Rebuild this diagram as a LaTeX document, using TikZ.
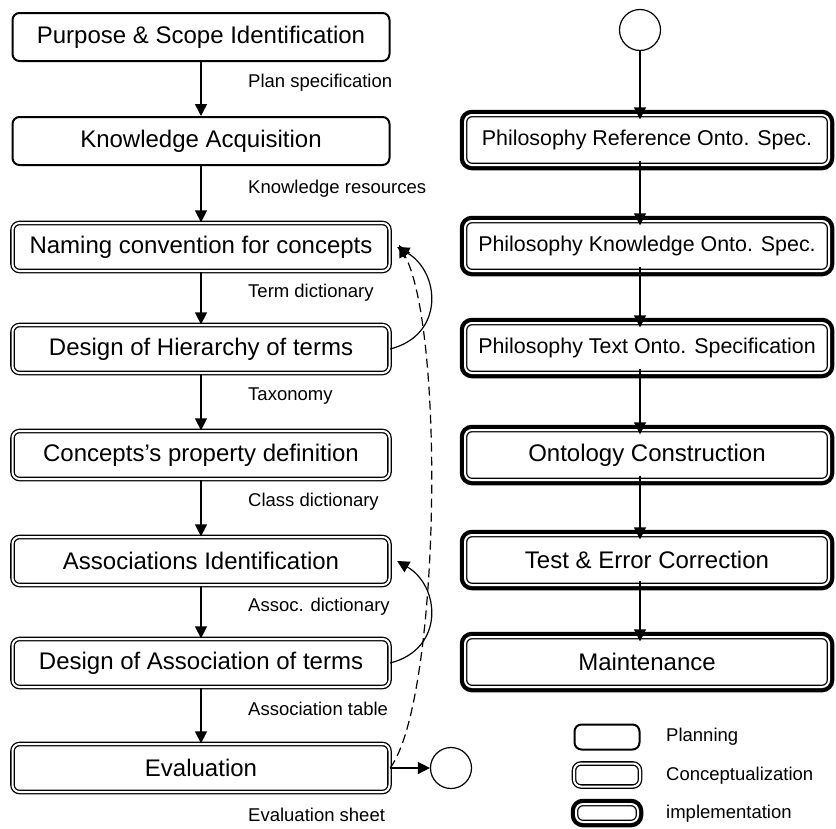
\documentclass[tikz,border=0pt]{standalone}
\usepackage{fontspec}
\setmainfont{Liberation Sans}
\usetikzlibrary{arrows.meta}

\begin{document}
\begin{tikzpicture}[x=1pt,y=-1pt,
  box/.style={rounded corners=7pt, fill=white, inner sep=0pt, minimum width=377pt, minimum height=48pt, font=\fontsize{24}{28}\selectfont},
  plan/.style={box, draw, line width=2pt},
  concept/.style={box, draw, double, line width=1.3pt, double distance=2pt},
  impl/.style={concept, preaction={draw, line width=10.5pt}, minimum width=364pt, minimum height=50pt},
  philo/.style={font=\fontsize{21.4}{25}\selectfont},
  lbl/.style={anchor=west, inner sep=0pt, font=\fontsize{18.5}{22}\selectfont},
  flow/.style={-{Triangle[length=12pt,width=12pt]}, line width=1.5pt},
  endpt/.style={circle, draw, line width=1.2pt, minimum size=41pt, inner sep=0pt}
]
\useasboundingbox (0,0) rectangle (836,828);

% left column
\node[plan] (purpose) at (201,37) {Purpose \& Scope Identification};
\node[plan] (acq) at (201,141) {Knowledge Acquisition};
\node[concept] (naming) at (201,247) {Naming convention for concepts};
\node[concept] (hier) at (201,349) {Design of Hierarchy of terms};
\node[concept] (prop) at (201,455) {Concepts's property definition};
\node[concept] (assoc) at (201,561) {Associations Identification};
\node[concept] (design) at (201,663) {Design of Association of terms};
\node[concept] (eval) at (201,768) {Evaluation};
\node[endpt] (finish) at (451,768) {};

\node[lbl] (plspec) at (248,83) {Plan specification};
\node[lbl] (kres) at (248,189) {Knowledge resources};
\node[lbl] (tdict) at (248,293) {Term dictionary};
\node[lbl] (taxo) at (248,396) {Taxonomy};
\node[lbl] (cdict) at (248,502) {Class dictionary};
\node[lbl] (adict) at (248,607) {Assoc. dictionary};
\node[lbl] (atable) at (248,709) {Association table};
\node[lbl] (esheet) at (248,815) {Evaluation sheet};

\foreach \a/\b in {purpose/acq, acq/naming, naming/hier, hier/prop, prop/assoc, assoc/design, design/eval}
  \draw[flow] (\a) -- (\b);
\draw[flow] (eval) -- (finish);

% feedback loops
\draw[flow, line width=1.2pt] (hier.east) .. controls +(55,-14) and +(43,25) .. ([xshift=7pt]naming.east);
\draw[flow, line width=1.2pt] (design.east) .. controls +(55,-14) and +(43,25) .. ([xshift=7pt]assoc.east);
\draw[flow, line width=1.2pt, dash pattern=on 9pt off 5pt] (eval.east) .. controls +(50,-68) and +(46,85) .. ([xshift=9pt,yshift=2pt]naming.east);

% right column
\node[endpt] (start) at (640,30) {};
\node[impl, philo] (ref) at (647,140) {Philosophy Reference Onto. Spec.};
\node[impl, philo] (know) at (647,246) {Philosophy Knowledge Onto. Spec.};
\node[impl, philo] (text) at (647,348) {Philosophy Text Onto. Specification};
\node[impl] (build) at (647,455) {Ontology Construction};
\node[impl] (test) at (647,560) {Test \& Error Correction};
\node[impl] (maint) at (647,662) {Maintenance};

\draw[flow] (start) -- ([yshift=-5pt]start |- ref.north);
\foreach \a/\b in {ref/know, know/text, text/build, build/test, test/maint}
  \draw[flow] ([yshift=5pt]start |- \a.south) -- ([yshift=-5pt]start |- \b.north);

% legend
\node[plan, minimum width=65pt, minimum height=25pt] (kplan) at (607,737) {};
\node[concept, minimum width=66pt, minimum height=23pt] (kconcept) at (607,775) {};
\node[impl, minimum width=62pt, minimum height=18pt] (kimpl) at (607,813) {};
\node[lbl] (tplan) at (666,737) {Planning};
\node[lbl] (tconcept) at (666,776) {Conceptualization};
\node[lbl] (timpl) at (666,814) {implementation};
\end{tikzpicture}
\end{document}
